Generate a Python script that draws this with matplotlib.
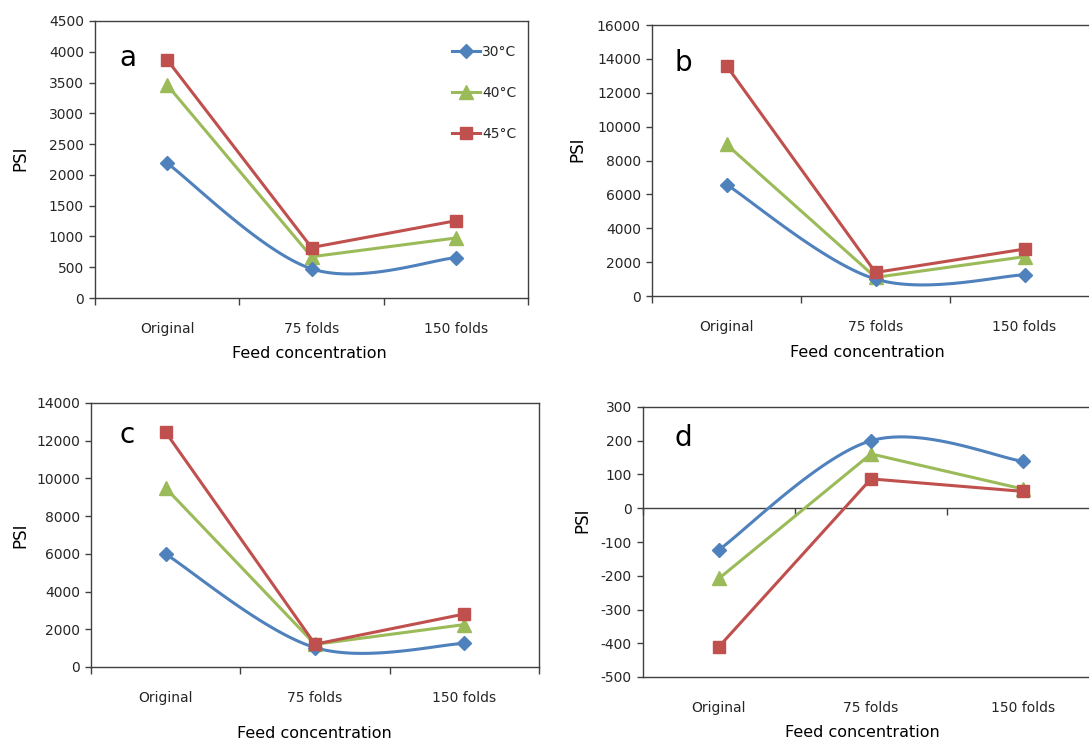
import numpy as np
import matplotlib
matplotlib.use("Agg")
import matplotlib.pyplot as plt
from matplotlib.lines import Line2D
from matplotlib.ticker import FixedLocator, MultipleLocator, NullFormatter

plt.rcParams['font.family'] = ['DejaVu Sans']
plt.rcParams['axes.unicode_minus'] = False

# ---- data -------------------------------------------------------------
categories = ["Original", "75 folds", "150 folds"]
series_labels = ["30°C", "40°C", "45°C"]

psi_a_30 = [2190, 475, 655]
psi_a_40 = [3460, 670, 975]
psi_a_45 = [3870, 820, 1255]

psi_b_30 = [6580, 1000, 1250]
psi_b_40 = [8950, 1100, 2320]
psi_b_45 = [13600, 1390, 2770]

psi_c_30 = [5990, 1030, 1250]
psi_c_40 = [9490, 1200, 2250]
psi_c_45 = [12450, 1210, 2810]

psi_d_30 = [-123, 200, 139]
psi_d_40 = [-208, 161, 57]
psi_d_45 = [-410, 87, 50]

panel_letters = ["a", "b", "c", "d"]

# ---- styling ----------------------------------------------------------
BLUE, GREEN, RED = "#4F81BD", "#9BBB59", "#C0504D"
AXIS_COLOR = "#404040"
TICK_TEXT = "#262626"
LW = 2.2
STYLES = [
    dict(color=BLUE, marker="D", ms=7.5),
    dict(color=GREEN, marker="^", ms=10),
    dict(color=RED, marker="s", ms=9),
]


def smoothed(xs, ys, n=60):
    """Cubic Bezier smoothing through the points (spreadsheet-style smooth line)."""
    pts = np.column_stack([xs, ys]).astype(float)
    out = []
    for i in range(len(pts) - 1):
        p0 = pts[i - 1] if i > 0 else pts[i]
        p1, p2 = pts[i], pts[i + 1]
        p3 = pts[i + 2] if i + 2 < len(pts) else pts[i + 1]
        c1 = p1 + (p2 - p0) / 6.0
        c2 = p2 - (p3 - p1) / 6.0
        t = np.linspace(0, 1, n)[:, None]
        seg = ((1 - t) ** 3) * p1 + 3 * ((1 - t) ** 2) * t * c1 \
            + 3 * (1 - t) * t ** 2 * c2 + t ** 3 * p2
        out.append(seg if i == 0 else seg[1:])
    seg = np.vstack(out)
    return seg[:, 0], seg[:, 1]


def draw_panel(ax, s30, s40, s45, ylim, ystep, letter, letter_xy,
               ylabel_xy, xlabel_xy, zero_axis=False, legend=False):
    x = np.arange(len(categories)) + 0.5

    # 30 °C is drawn as a smoothed line, the others as straight segments
    sx, sy = smoothed(x, s30)
    ax.plot(sx, sy, color=BLUE, lw=LW, solid_capstyle="round", zorder=3)
    ax.plot(x, s30, ls="none", zorder=4, **STYLES[0])
    ax.plot(x, s40, lw=LW, zorder=3, **STYLES[1])
    ax.plot(x, s45, lw=LW, zorder=5, **STYLES[2])

    ax.set_xlim(0, len(categories))
    ax.set_ylim(*ylim)
    ax.yaxis.set_major_locator(MultipleLocator(ystep))

    # category labels centred between boundary tick marks
    ax.xaxis.set_minor_locator(FixedLocator(x))
    ax.set_xticks(x, minor=True)
    ax.set_xticklabels(categories, minor=True)
    ax.tick_params(axis="x", which="minor", length=0, pad=17,
                   labelsize=10, labelcolor=TICK_TEXT)
    ax.tick_params(axis="y", which="major", length=4, width=1,
                   direction="out", color=AXIS_COLOR, labelsize=10,
                   labelcolor=TICK_TEXT, pad=4)

    if zero_axis:
        ax.set_xticks([])
        loc = (0 - ylim[0]) / (ylim[1] - ylim[0])
        sec = ax.secondary_xaxis(loc)
        sec.set_alignment("bottom")
        sec.set_xticks(np.arange(len(categories) + 1))
        sec.xaxis.set_major_formatter(NullFormatter())
        sec.tick_params(axis="x", length=5, width=1, direction="out",
                        color=AXIS_COLOR)
        sec.spines["bottom"].set_color(AXIS_COLOR)
        sec.spines["bottom"].set_linewidth(1.0)
    else:
        ax.set_xticks(np.arange(len(categories) + 1))
        ax.xaxis.set_major_formatter(NullFormatter())
        ax.tick_params(axis="x", which="major", length=5, width=1,
                       direction="out", color=AXIS_COLOR)

    for sp in ax.spines.values():
        sp.set_color(AXIS_COLOR)
        sp.set_linewidth(1.0)

    ax.set_ylabel("PSI", fontsize=12, color="black")
    ax.yaxis.set_label_coords(*ylabel_xy)
    ax.yaxis.label.set_va("center")
    ax.set_xlabel("Feed concentration", fontsize=11.5, color="black")
    ax.xaxis.set_label_coords(*xlabel_xy)
    ax.xaxis.label.set_va("center")

    ax.text(letter_xy[0], letter_xy[1], letter, transform=ax.transAxes,
            fontsize=20, ha="center", va="center", color="black")

    if legend:
        handles = [Line2D([], [], lw=LW, **st) for st in STYLES]
        ax.legend(handles, series_labels, loc="upper left",
                  bbox_to_anchor=(0.825, 0.915),
                  frameon=False, borderpad=0, borderaxespad=0,
                  handlelength=2.0, handletextpad=0.15, labelspacing=1.95,
                  fontsize=10, labelcolor=TICK_TEXT, markerscale=0.95)


fig = plt.figure(figsize=(10.89, 7.42), dpi=100)
W, H = 1089.0, 742.0


def axes_px(left, top, right, bottom):
    return fig.add_axes([left / W, 1 - bottom / H, (right - left) / W, (bottom - top) / H])


ax_a = axes_px(95, 21, 528, 298)
ax_b = axes_px(652, 25, 1099, 296)
ax_c = axes_px(91, 403, 539, 667)
ax_d = axes_px(643, 407, 1099, 677)

draw_panel(ax_a, psi_a_30, psi_a_40, psi_a_45, (0, 4500), 500, panel_letters[0],
           (0.076, 0.866), (-0.173, 0.505), (0.494, -0.199), legend=True)
draw_panel(ax_b, psi_b_30, psi_b_40, psi_b_45, (0, 16000), 2000, panel_letters[1],
           (0.069, 0.86), (-0.168, 0.54), (0.481, -0.21))
draw_panel(ax_c, psi_c_30, psi_c_40, psi_c_45, (0, 14000), 2000, panel_letters[2],
           (0.080, 0.879), (-0.158, 0.5), (0.498, -0.25))
draw_panel(ax_d, psi_d_30, psi_d_40, psi_d_45, (-500, 300), 100, panel_letters[3],
           (0.088, 0.885), (-0.134, 0.58), (0.48, -0.207), zero_axis=True)

fig.savefig("out.png", dpi=100)
